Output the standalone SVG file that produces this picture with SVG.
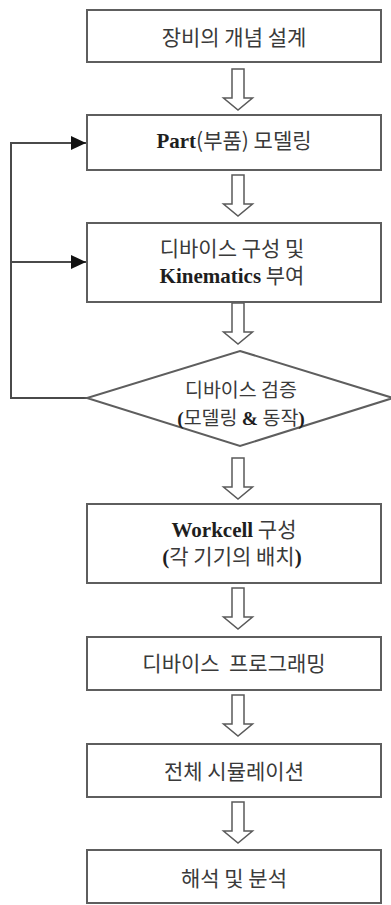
<svg xmlns="http://www.w3.org/2000/svg" xmlns:xlink="http://www.w3.org/1999/xlink" width="391" height="905" viewBox="0 0 391 905">
  <style>
    .box { fill: #ffffff; stroke: #5e5e5e; stroke-width: 2; }
    .ko { font-family: "Noto Sans CJK KR", "Noto Sans", sans-serif; font-size: 21px; fill: #3a3a3a; text-anchor: middle; }
    .sm { font-size: 19.5px; }
    .en { font-family: "Liberation Serif", "Noto Sans CJK KR", serif; font-weight: bold; fill: #1e1e1e; }
    .flow { fill: #ffffff; stroke: #5a5a5a; stroke-width: 1.5; stroke-linejoin: miter; }
    .loop { fill: none; stroke: #4a4a4a; stroke-width: 2; }
  </style>
  <defs>
    <!-- hollow block arrow, anchored at its top centre -->
    <path id="down" class="flow" d="M-6,0 H6 V29 H14.5 L0,41 L-14.5,29 H-6 Z"/>
    <marker id="tri" viewBox="0 0 15 14" refX="15" refY="7" markerWidth="15" markerHeight="14" markerUnits="userSpaceOnUse" orient="auto">
      <path d="M0,0 L15,7 L0,14 Z" fill="#111111"/>
    </marker>
  </defs>

  <rect width="391" height="905" fill="#ffffff"/>

  <!-- connectors -->
  <g id="connectors">
    <use xlink:href="#down" x="238" y="69"/>
    <use xlink:href="#down" x="238" y="175"/>
    <use xlink:href="#down" x="238" y="303"/>
    <use xlink:href="#down" x="238" y="458"/>
    <use xlink:href="#down" x="238" y="588"/>
    <use xlink:href="#down" x="238" y="695"/>
    <use xlink:href="#down" x="238" y="802"/>
    <!-- feedback loop from the check back to modelling -->
    <polyline class="loop" points="87,398 11,398 11,143 86,143" marker-end="url(#tri)"/>
    <line class="loop" x1="11" y1="262" x2="86" y2="262" marker-end="url(#tri)"/>
  </g>

  <g id="concept">
    <rect class="box" x="87" y="10" width="294" height="52"/>
    <text class="ko" x="234" y="45">장비의 개념 설계</text>
  </g>

  <g id="part-modeling">
    <rect class="box" x="87" y="115" width="294" height="55"/>
    <text class="ko" x="234" y="148"><tspan class="en">Part</tspan>(부품) 모델링</text>
  </g>

  <g id="device-setup">
    <rect class="box" x="87" y="223" width="294" height="79"/>
    <text class="ko" x="232" y="256">디바이스 구성 및</text>
    <text class="ko" x="232" y="283"><tspan class="en">Kinematics</tspan> 부여</text>
  </g>

  <g id="device-check">
    <polygon class="box" points="240,351 393,398 240,446 87,398"/>
    <text class="ko sm" x="241" y="397">디바이스 검증</text>
    <text class="ko sm" x="241" y="425"><tspan class="en">(</tspan>모델링 <tspan class="en">&amp;</tspan> 동작<tspan class="en">)</tspan></text>
  </g>

  <g id="workcell">
    <rect class="box" x="87" y="504" width="294" height="79"/>
    <text class="ko" x="234" y="537"><tspan class="en">Workcell</tspan> 구성</text>
    <text class="ko" x="232" y="564"><tspan class="en">(</tspan>각 기기의 배치<tspan class="en">)</tspan></text>
  </g>

  <g id="programming">
    <rect class="box" x="87" y="637" width="294" height="53"/>
    <text class="ko" x="234" y="671" xml:space="preserve">디바이스  프로그래밍</text>
  </g>

  <g id="simulation">
    <rect class="box" x="87" y="744" width="294" height="53"/>
    <text class="ko" x="234" y="779">전체 시뮬레이션</text>
  </g>

  <g id="analysis">
    <rect class="box" x="87" y="850" width="294" height="53"/>
    <text class="ko" x="234" y="886">해석 및 분석</text>
  </g>
</svg>
